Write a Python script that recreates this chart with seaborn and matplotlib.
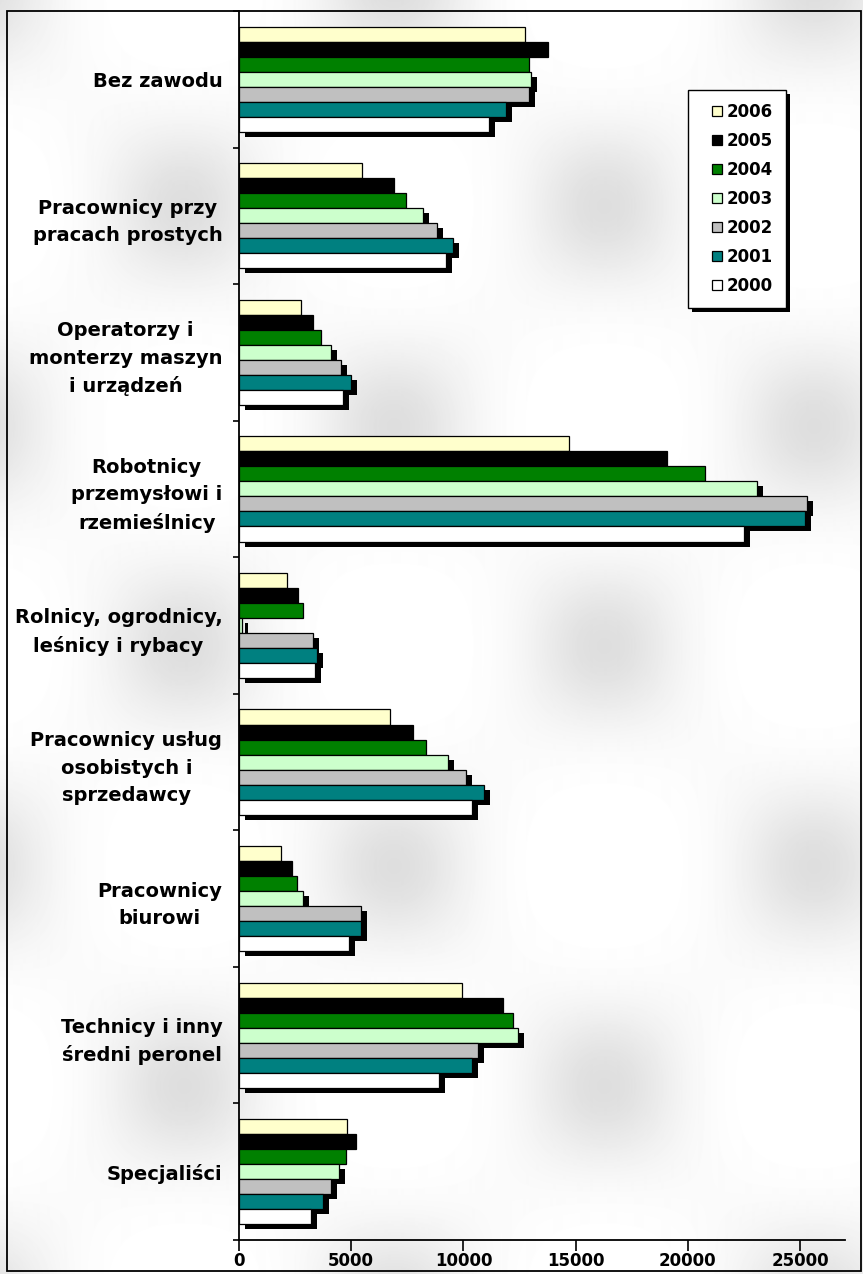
import numpy as np
import pandas as pd
import matplotlib
matplotlib.use("Agg")
import matplotlib.pyplot as plt
import matplotlib.patheffects as pe
from matplotlib.lines import Line2D
from matplotlib.patches import Rectangle
import seaborn as sns

# categories, top to bottom
categories = ["Bez zawodu",
              "Pracownicy przy\npracach prostych",
              "Operatorzy i\nmonterzy maszyn\ni urządzeń",
              "Robotnicy\nprzemysłowi i\nrzemieślnicy",
              "Rolnicy, ogrodnicy,\nleśnicy i rybacy",
              "Pracownicy usług\nosobistych i\nsprzedawcy",
              "Pracownicy\nbiurowi",
              "Technicy i inny\nśredni peronel",
              "Specjaliści"]

years = ["2006", "2005", "2004", "2003", "2002", "2001", "2000"]

v2006 = [12750, 5470, 2760, 14710, 2150, 6730, 1870, 9950, 4820]
v2005 = [13760, 6920, 3310, 19060, 2640, 7740, 2350, 11780, 5210]
v2004 = [12900, 7440, 3650, 20750, 2870, 8330, 2600, 12200, 4750]
v2003 = [13000, 8220, 4090, 23080, 150, 9300, 2840, 12450, 4440]
v2002 = [12900, 8840, 4530, 25300, 3290, 10120, 5440, 10640, 4090]
v2001 = [11900, 9550, 4980, 25200, 3460, 10920, 5440, 10370, 3730]
v2000 = [11150, 9210, 4620, 22480, 3370, 10370, 4890, 8930, 3200]

colors = {"2006": "#FFFFCC", "2005": "#000000", "2004": "#008000",
          "2003": "#CCFFCC", "2002": "#C0C0C0", "2001": "#008080",
          "2000": "#FFFFFF"}
# only these series carry a drop shadow in the original
shadowed = ["2003", "2002", "2001", "2000"]

series = [v2006, v2005, v2004, v2003, v2002, v2001, v2000]
rows = []
for year, vals in zip(years, series):
    for cat, v in zip(categories, vals):
        rows.append({"kategoria": cat, "rok": year, "wartosc": v})
df = pd.DataFrame(rows)

fig = plt.figure(figsize=(8.63, 12.74), dpi=100)

# soft textured background like the original
bg = fig.add_axes([0, 0, 1, 1], zorder=-10)
yy, xx = np.mgrid[0:1274, 0:863]
c = np.cos(2 * np.pi * xx / 420 + 0.4) * np.cos(2 * np.pi * yy / 440 + 0.2)
tex = 1 - 0.13 * ((c + 1) / 2) ** 3
bg.imshow(tex, cmap="gray", vmin=0, vmax=1, aspect="auto", interpolation="bilinear")
bg.axis("off")

ax = fig.add_axes([239 / 863, 1 - 1240 / 1274, (845 - 239) / 863, (1240 - 11) / 1274])
ax.patch.set_alpha(0)

sns.barplot(data=df, x="wartosc", y="kategoria", hue="rok", order=categories,
            hue_order=years, palette=colors, saturation=1, orient="y", width=0.77, gap=0,
            edgecolor="black", linewidth=0.9, errorbar=None, legend=False, ax=ax)

# black drop shadow on the bars of the older series
n = len(categories)
for i, p in enumerate(ax.patches):
    if years[i // n] in shadowed:
        p.set_path_effects([pe.SimplePatchShadow(offset=(4.3, -3.6), shadow_rgbFace="black", alpha=1.0),
                            pe.Normal()])

ax.set_xlim(0, 27000)
ax.set_ylim(n - 0.5, -0.5)
ax.set_xticks([0, 5000, 10000, 15000, 20000, 25000])
ax.set_xticklabels(["0", "5000", "10000", "15000", "20000", "25000"])
ax.set_xlabel("")
ax.set_ylabel("")

for s in ["top", "right"]:
    ax.spines[s].set_visible(False)
for s in ["left", "bottom"]:
    ax.spines[s].set_color("black")
    ax.spines[s].set_linewidth(1.3)

ax.tick_params(axis="x", length=8, width=1.2, direction="out", pad=1, labelsize=12)
ax.tick_params(axis="y", which="major", length=0, pad=12, labelsize=14)
ax.set_yticks(np.arange(-0.5, n, 1), minor=True)
ax.tick_params(axis="y", which="minor", length=4, width=1.2, direction="out")

for lab in ax.get_xticklabels():
    lab.set_fontweight("bold")
for lab in ax.get_yticklabels():
    lab.set_fontweight("bold")
    lab.set_multialignment("center")
    lab.set_linespacing(1.55)

handles = [Line2D([], [], linestyle="none", marker="s", markersize=7,
                  markerfacecolor=colors[y], markeredgecolor="black", markeredgewidth=0.9)
           for y in years]
leg = ax.legend(handles, years, loc="upper right", bbox_to_anchor=(0.903, 0.936),
                borderaxespad=0, frameon=True, fancybox=False, framealpha=1,
                edgecolor="black", facecolor="white", borderpad=0.8,
                handlelength=1.9, handletextpad=-0.4, labelspacing=0.66,
                prop={"weight": "bold", "size": 12})
leg.get_frame().set_linewidth(1.0)
leg.get_frame().set_path_effects([pe.SimplePatchShadow(offset=(3, -3), shadow_rgbFace="black", alpha=1.0),
                                  pe.Normal()])

# chart border
fig.patches.append(Rectangle((7 / 863, 3 / 1274), (861 - 7) / 863, (1263 - 3) / 1274,
                             transform=fig.transFigure, fill=False, edgecolor="black",
                             linewidth=1.3, zorder=5))

fig.savefig("out.png", dpi=100)
